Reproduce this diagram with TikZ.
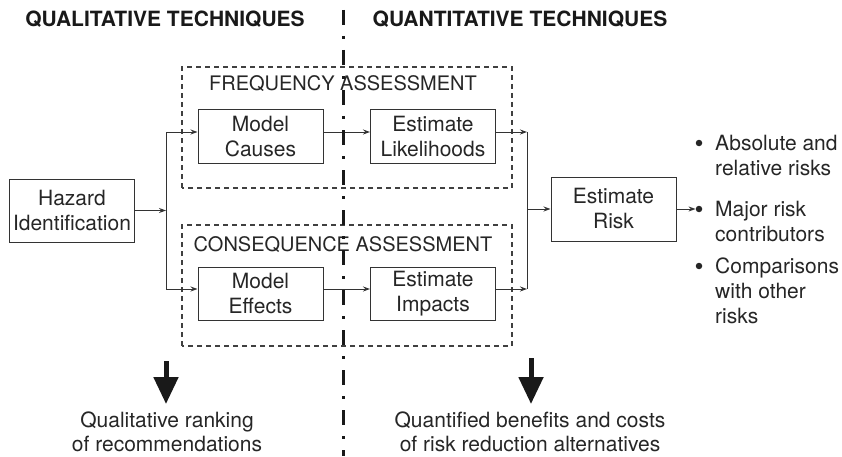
\documentclass[tikz,border=0pt]{standalone}
\usepackage{fontspec}
\setmainfont{TeX Gyre Heros}
\usetikzlibrary{arrows.meta}
\newcommand{\boxfont}{\fontsize{21}{25}\selectfont}
\newcommand{\labelfont}{\fontsize{20}{24}\selectfont}
\newcommand{\notefont}{\fontsize{21}{23.5}\selectfont}
\newcommand{\headfont}{\fontsize{21}{24}\selectfont\bfseries}
\tikzset{
	stepbox/.style={draw=black!80, line width=1pt, minimum width=125pt, align=center, font=\boxfont, text=black!85, inner sep=2pt},
	phase/.style={draw=black!75, line width=1.1pt, dash pattern=on 5pt off 4pt},
	wire/.style={draw=black!80, line width=1pt},
	flow/.style={wire, -{Stealth[length=7pt,width=5pt]}},
	bigarrow/.style={draw=black!90, line width=5pt, -{Triangle[length=27pt,width=24pt]}, shorten >=8pt},
	divider/.style={draw=black!90, line width=3pt, dash pattern=on 15pt off 11pt on 3pt off 11pt},
	bulletdot/.style={circle, fill=black!85, minimum size=6.5pt, inner sep=0pt},
	item/.style={anchor=north west, align=left, font=\boxfont, text=black!85, inner sep=0pt},
	note/.style={anchor=north, align=center, font=\notefont, text=black!85, inner sep=0pt},
	heading/.style={anchor=base, font=\headfont, text=black!90}
}

\begin{document}
\begin{tikzpicture}[x=1pt,y=1pt]
	\useasboundingbox (0,0) rectangle (842,456);

	\node[heading] (qualhead) at (165,429.5) {QUALITATIVE TECHNIQUES};
	\node[heading] (quanthead) at (520,429.5) {QUANTITATIVE TECHNIQUES};

	\draw[phase] (182,268) rectangle (512,389);
	\draw[phase] (182,110) rectangle (512,231);
	\node[font=\labelfont, text=black!85] (freqlabel) at (343,372.5) {FREQUENCY ASSESSMENT};
	\node[font=\labelfont, text=black!85] (conslabel) at (343,211.5) {CONSEQUENCE ASSESSMENT};

	\node[stepbox, minimum height=63pt] (hazard) at (72,245.5) {Hazard\\Identification};
	\node[stepbox, minimum height=53pt] (mc) at (260.5,319.5) {Model\\Causes};
	\node[stepbox, minimum height=53pt] (el) at (433,319.5) {Estimate\\Likelihoods};
	\node[stepbox, minimum height=53pt] (me) at (260.5,162.5) {Model\\Effects};
	\node[stepbox, minimum height=53pt] (ei) at (433,162.5) {Estimate\\Impacts};
	\node[stepbox, minimum height=64pt] (risk) at (613.5,247) {Estimate\\Risk};

	\coordinate (lbus) at (166,0);
	\coordinate (rbus) at (527,0);

	\draw[flow] (hazard) -- (hazard -| lbus);
	\draw[flow] ([yshift=4.5pt]me.west -| lbus) |- ([yshift=4.5pt]mc.west);
	\draw[flow] ([yshift=4.5pt]me.west -| lbus) -- ([yshift=4.5pt]me.west);
	\draw[flow] ([yshift=4.5pt]mc.east) -- ([yshift=4.5pt]el.west);
	\draw[flow] ([yshift=4.5pt]me.east) -- ([yshift=4.5pt]ei.west);
	\draw[flow] ([yshift=4.5pt]el.east) -- ([yshift=4.5pt]el.east -| rbus);
	\draw[flow] ([yshift=4.5pt]ei.east) -- ([yshift=4.5pt]ei.east -| rbus);
	\draw[wire] ([yshift=4.5pt]el.east -| rbus) -- ([yshift=4.5pt]ei.east -| rbus);
	\draw[flow] (risk.west -| rbus) -- (risk.west);

	\node[bulletdot] (b1) at (699,313) {};
	\node[bulletdot] (b2) at (699,247) {};
	\node[bulletdot] (b3) at (699,190) {};
	\node[item] (i1) at (715,321) {Absolute and\\relative risks};
	\node[item] (i2) at (715,255) {Major risk\\contributors};
	\node[item] (i3) at (715,198) {Comparisons\\with other\\risks};
	\draw[flow] (risk.east) -- (b2.west);

	\node[note] (qualnote) at (167,44) {Qualitative ranking\\of recommendations};
	\node[note] (quantnote) at (530,44) {Quantified benefits and costs\\of risk reduction alternatives};
	\coordinate (qualtop) at (166,95);
	\coordinate (quanttop) at (531,98);
	\draw[bigarrow] (qualtop) -- (qualtop |- qualnote.north);
	\draw[bigarrow] (quanttop) -- (quanttop |- quantnote.north);

	\coordinate (divtop) at (343,446);
	\coordinate (divbot) at (343,0);
	\draw[divider] (divtop) -- (divbot);
\end{tikzpicture}
\end{document}
